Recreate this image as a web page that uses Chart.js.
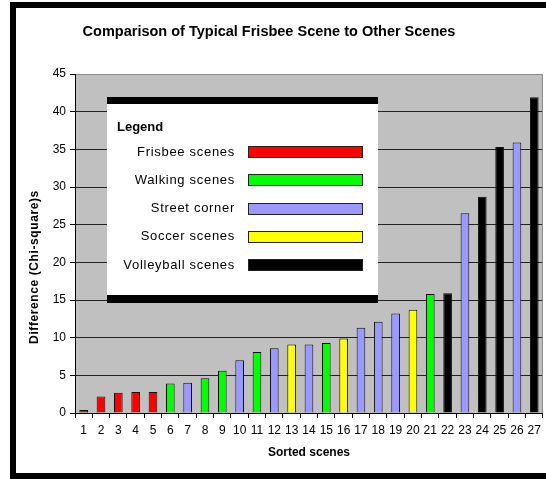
<!DOCTYPE html>
<html>
<head>
<meta charset="utf-8">
<script src="https://cdn.jsdelivr.net/npm/chart.js@4/dist/chart.umd.min.js"></script>
<style>
  html, body { margin: 0; padding: 0; background: #fff; }
  #wrap { width: 546px; height: 479px; position: relative; }
</style>
</head>
<body>
<div id="wrap"><canvas id="chart" width="546" height="479"></canvas></div>
<script>
// Sorted scenes and their chi-square difference from the typical frisbee scene
const sceneLabels = ['1','2','3','4','5','6','7','8','9','10','11','12','13','14','15','16','17','18','19','20','21','22','23','24','25','26','27'];
const chiSquare = [0.4, 2.2, 2.7, 2.8, 2.8, 3.9, 4.0, 4.6, 5.6, 7.0, 8.1, 8.6, 9.1, 9.1, 9.3, 9.9, 11.3, 12.1, 13.2, 13.7, 15.8, 15.9, 26.5, 28.7, 35.3, 35.9, 41.9];
// Scene type of each bar (index into sceneTypes)
const sceneKind = [0, 0, 0, 0, 0, 1, 2, 1, 1, 2, 1, 2, 3, 2, 1, 3, 2, 2, 2, 3, 1, 4, 2, 4, 4, 2, 4];
const sceneTypes = ['Frisbee scenes', 'Walking scenes', 'Street corner', 'Soccer scenes', 'Volleyball scenes'];
const typeColors = ['#FF0000', '#00FF00', '#9999FF', '#FFFF00', '#000000'];
const yMin = 0, yMax = 45, yStep = 5;

const FONT = "'Liberation Sans', Arial, sans-serif";

const datasets = sceneTypes.map((name, k) => ({
  label: name,
  data: chiSquare.map((v, i) => sceneKind[i] === k ? v : null),
  backgroundColor: typeColors[k],
  borderColor: '#111',
  borderWidth: 1,
  borderSkipped: 'bottom',
  barPercentage: 0.5,
  categoryPercentage: 1.0
}));

const decor = {
  id: 'decor',
  beforeDraw(chart) {
    const { ctx, chartArea: a } = chart;
    ctx.save();
    ctx.fillStyle = '#fff';
    ctx.fillRect(0, 0, chart.width, chart.height);
    ctx.fillStyle = '#C0C0C0';
    ctx.fillRect(a.left, a.top, a.right - a.left, a.bottom - a.top);
    ctx.restore();
  },
  afterDraw(chart) {
    const { ctx, chartArea: a } = chart;
    ctx.save();
    // right edge of the plot area
    ctx.strokeStyle = '#8a8a8a';
    ctx.lineWidth = 1;
    ctx.beginPath();
    ctx.moveTo(a.right - 0.5, a.top);
    ctx.lineTo(a.right - 0.5, a.bottom);
    ctx.stroke();

    // outer frame
    ctx.fillStyle = '#000';
    ctx.fillRect(10, 2, 536, 6);
    ctx.fillRect(10, 2, 6, 477);
    ctx.fillRect(10, 473, 536, 6);

    // title
    ctx.fillStyle = '#000';
    ctx.textBaseline = 'middle';
    ctx.textAlign = 'center';
    ctx.font = 'bold 14.5px ' + FONT;
    ctx.fillText('Comparison of Typical Frisbee Scene to Other Scenes', 269, 32);

    // axis titles
    ctx.font = 'bold 12px ' + FONT;
    ctx.fillText('Sorted scenes', (a.left + a.right) / 2, 453);
    ctx.save();
    ctx.translate(35, 267);
    ctx.rotate(-Math.PI / 2);
    ctx.font = 'bold 12px ' + FONT;
    ctx.letterSpacing = '0.6px';
    ctx.fillText('Difference (Chi-square)s', 0, 0);
    ctx.restore();

    // legend panel
    const lx = 107, lw = 271;
    ctx.fillStyle = '#fff';
    ctx.fillRect(lx, 104, lw, 191);
    ctx.fillStyle = '#000';
    ctx.fillRect(lx, 97, lw, 7);
    ctx.fillRect(lx, 295, lw, 8);
    ctx.textAlign = 'left';
    ctx.font = 'bold 13px ' + FONT;
    ctx.fillText('Legend', 117, 127);
    ctx.font = '13px ' + FONT;
    ctx.letterSpacing = '0.7px';
    ctx.textAlign = 'right';
    chart.data.datasets.forEach((ds, k) => {
      const cy = 152 + k * 28.3;
      ctx.fillStyle = '#000';
      ctx.fillText(ds.label, 235, cy);
      ctx.fillStyle = ds.backgroundColor;
      ctx.fillRect(248, Math.round(cy) - 6, 115, 12);
      ctx.strokeStyle = '#222';
      ctx.lineWidth = 1;
      ctx.strokeRect(248.5, Math.round(cy) - 5.5, 114, 11);
    });
    ctx.restore();
  }
};

new Chart(document.getElementById('chart'), {
  type: 'bar',
  data: { labels: sceneLabels, datasets },
  plugins: [decor],
  options: {
    responsive: false,
    animation: false,
    events: [],
    layout: { padding: { left: 45, right: 3, top: 74, bottom: 36 } },
    plugins: { legend: { display: false }, title: { display: false }, tooltip: { enabled: false } },
    scales: {
      x: {
        stacked: true,
        afterFit(s) { s.height = 30; },
        grid: { display: true, drawOnChartArea: false, drawTicks: true, tickLength: 5, color: '#000', offset: true },
        border: { display: true, color: '#000', width: 1 },
        ticks: { color: '#000', font: { family: FONT, size: 12 }, padding: 5, maxRotation: 0, autoSkip: false }
      },
      y: {
        stacked: true,
        min: yMin, max: yMax,
        afterFit(s) { s.width = 30; },
        grid: {
          color: (c) => c.tick && c.tick.value === yMax ? '#8a8a8a' : '#222',
          tickColor: '#000',
          tickLength: 5,
          drawTicks: true
        },
        border: { display: true, color: '#000', width: 1 },
        ticks: { stepSize: yStep, color: '#000', font: { family: FONT, size: 12 }, padding: 4 }
      }
    }
  }
});
</script>
</body>
</html>
